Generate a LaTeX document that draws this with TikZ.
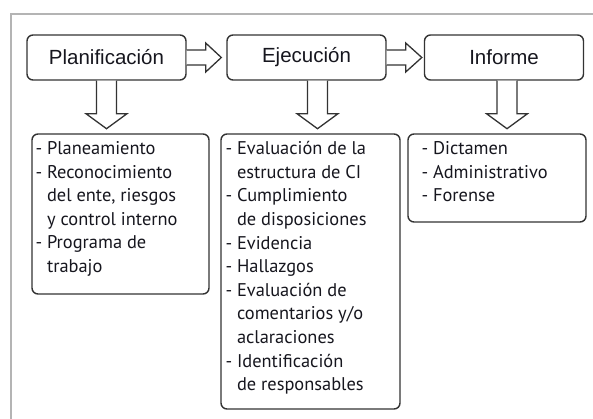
\documentclass[tikz,border=0pt]{standalone}
\usepackage{fontspec}
\setmainfont{Liberation Sans}
\newfontfamily\listfont{PT Sans}
\usetikzlibrary{calc}
\definecolor{boxline}{HTML}{333333}
\definecolor{framegray}{HTML}{B4B4B4}
\definecolor{txt}{HTML}{16161E}
\begin{document}
\begin{tikzpicture}[x=1pt,y=-1pt,
  stage/.style={draw=boxline,line width=1.4pt,rounded corners=6pt,minimum width=159pt,minimum height=45pt,inner sep=0pt,font=\fontsize{20.5}{24}\selectfont,text=txt},
  listbox/.style={draw=boxline,line width=1.4pt,rounded corners=6pt,inner sep=0pt},
  listtext/.style={anchor=north west,align=left,inner sep=0pt,font=\listfont\fontsize{18.4}{23.6}\selectfont,text=txt},
  hollow/.style={draw=boxline,line width=1.3pt,fill=white,line join=miter}
]
\useasboundingbox (0,0) rectangle (593,419);
\draw[framegray,line width=2pt] (603,14) -- (11,14) -- (11,429);

\node[stage] (plan) at (106.5,57.5) {Planificación};
\node[stage] (ejec) at (306.5,57.5) {Ejecución};
\node[stage] (inf) at (504,57.5) {Informe};

\node[listbox,minimum width=177pt,minimum height=160pt] (planl) at (120.5,214) {};
\node[listbox,minimum width=179pt,minimum height=275pt] (ejecl) at (310.5,271.5) {};
\node[listbox,minimum width=178pt,minimum height=88pt] (infl) at (497,178) {};

\node[listtext] (planlt) at ($(planl.north west)+(4,8)$) {- Planeamiento\\- Reconocimiento\\\hphantom{- }del ente, riesgos\\\hphantom{- }y control interno\\- Programa de\\\hphantom{- }trabajo};
\node[listtext] (ejeclt) at ($(ejecl.north west)+(5,8)$) {- Evaluación de la\\\hphantom{- }estructura de CI\\- Cumplimiento\\\hphantom{- }de disposiciones\\- Evidencia\\- Hallazgos\\- Evaluación de\\\hphantom{- }comentarios y/o\\\hphantom{- }aclaraciones\\- Identificación\\\hphantom{- }de responsables};
\node[listtext] (inflt) at ($(infl.north west)+(14,8)$) {- Dictamen\\- Administrativo\\- Forense};

% horizontal hollow arrows
\draw[hollow] ($(plan.east)+(0,-7.5)$) -- ++(19,0) -- ++(0,-7) -- ($(ejec.west)+(-5,0)$) -- ($(plan.east)+(19,14.5)$) -- ++(0,-7) -- ++(-19,0);
\draw[hollow] ($(ejec.east)+(0,-7.5)$) -- ++(19,0) -- ++(0,-7) -- ($(inf.west)+(-2,0)$) -- ($(ejec.east)+(19,14.5)$) -- ++(0,-7) -- ++(-19,0);

% vertical hollow arrows
\draw[hollow] ($(plan.south)+(-10,0)$) -- ++(0,33) -- ++(-10.5,0) -- ($(plan.south)+(0,48)$) -- ($(plan.south)+(20.5,33)$) -- ++(-10.5,0) -- ++(0,-33);
\draw[hollow] ($(ejec.south)+(1,0)$) -- ++(0,33) -- ++(-10.5,0) -- ($(ejec.south)+(11,48)$) -- ($(ejec.south)+(31.5,33)$) -- ++(-10.5,0) -- ++(0,-33);
\draw[hollow] ($(inf.south)+(-7,0)$) -- ++(0,33) -- ++(-10.5,0) -- ($(inf.south)+(3,48)$) -- ($(inf.south)+(23.5,33)$) -- ++(-10.5,0) -- ++(0,-33);
\end{tikzpicture}
\end{document}
